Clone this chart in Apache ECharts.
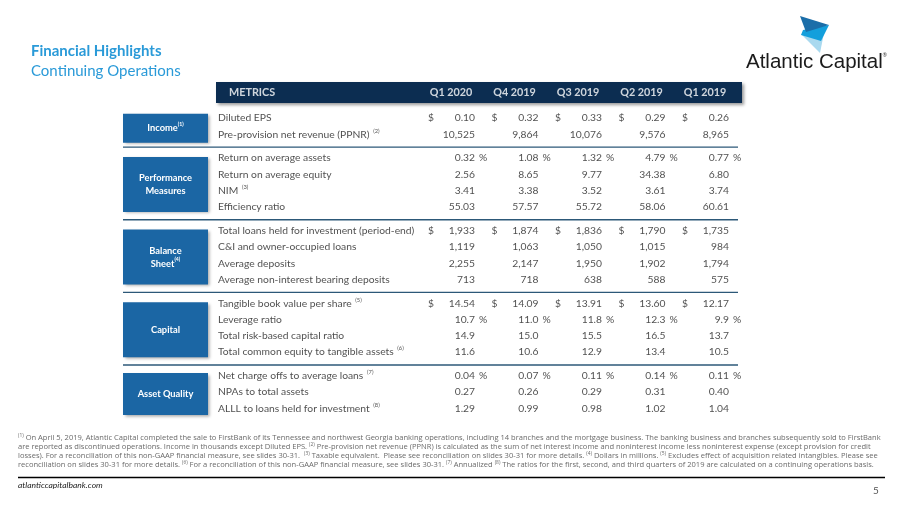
<!DOCTYPE html>
<html><head><meta charset="utf-8">
<script src="https://cdn.jsdelivr.net/npm/echarts@6/dist/echarts.min.js"></script>
<style>html,body{margin:0;padding:0;background:#fff}#c{width:900px;height:506px}</style>
</head><body><div id="c"></div>
<script>
// ---------- DATA ----------
const quarters = ['Q1 2020', 'Q4 2019', 'Q3 2019', 'Q2 2019', 'Q1 2019'];
const sectionNames = ['Income', 'Performance\nMeasures', 'Balance\nSheet', 'Capital', 'Asset Quality'];
const sectionNotes = ['(1)', '', '(4)', '', ''];
const rowLabels = [
  'Diluted EPS', 'Pre-provision net revenue (PPNR)',
  'Return on average assets', 'Return on average equity', 'NIM', 'Efficiency ratio',
  'Total loans held for investment (period-end)', 'C&I and owner-occupied loans', 'Average deposits', 'Average non-interest bearing deposits',
  'Tangible book value per share', 'Leverage ratio', 'Total risk-based capital ratio', 'Total common equity to tangible assets',
  'Net charge offs to average loans', 'NPAs to total assets', 'ALLL to loans held for investment'
];
const rowNotes = ['', '(2)', '', '', '(3)', '', '', '', '', '', '(5)', '', '', '(6)', '(7)', '', '(8)'];
const rowSection = [0, 0, 1, 1, 1, 1, 2, 2, 2, 2, 3, 3, 3, 3, 4, 4, 4];
const rowUnits = ['$', '', '%', '', '', '', '$', '', '', '', '$', '%', '', '', '%', '', ''];
const decimals = [2, 0, 2, 2, 2, 2, 0, 0, 0, 0, 2, 1, 1, 1, 2, 2, 2];
const q1_2020 = [0.10, 10525, 0.32, 2.56, 3.41, 55.03, 1933, 1119, 2255, 713, 14.54, 10.7, 14.9, 11.6, 0.04, 0.27, 1.29];
const q4_2019 = [0.32, 9864, 1.08, 8.65, 3.38, 57.57, 1874, 1063, 2147, 718, 14.09, 11.0, 15.0, 10.6, 0.07, 0.26, 0.99];
const q3_2019 = [0.33, 10076, 1.32, 9.77, 3.52, 55.72, 1836, 1050, 1950, 638, 13.91, 11.8, 15.5, 12.9, 0.11, 0.29, 0.98];
const q2_2019 = [0.29, 9576, 4.79, 34.38, 3.61, 58.06, 1790, 1015, 1902, 588, 13.60, 12.3, 16.5, 13.4, 0.14, 0.31, 1.02];
const q1_2019 = [0.26, 8965, 0.77, 6.80, 3.74, 60.61, 1735, 984, 1794, 575, 12.17, 9.9, 13.7, 10.5, 0.11, 0.40, 1.04];
const quarterValues = [q1_2020, q4_2019, q3_2019, q2_2019, q1_2019];

// ---------- LAYOUT ----------
const FONT = 'Lato, "Noto Sans", sans-serif';
const FOOT_FONT = '"Open Sans", Lato, sans-serif';
const BODY_SIZE = 10.3;
const ROW0 = 118, ROW_H = 16.3, GAP_H = 7.4;
const COL0 = 451, COL_W = 63.5;
const LABEL_X = 218, TABLE_L = 123, TABLE_R = 738, BOX_L = 123, BOX_R = 208;
const HEAD = {x: 216, y: 82, w: 526, h: 21};
const TEXT_C = '#1e1e1e';
function rowY(i) { return ROW0 + i * ROW_H + rowSection[i] * GAP_H; }
function colC(k) { return COL0 + k * COL_W; }
function fmt(v, d) { return v.toLocaleString('en-US', {minimumFractionDigits: d, maximumFractionDigits: d}); }
function rowsOf(s) { const r = []; rowSection.forEach((x, i) => { if (x === s) r.push(i); }); return r; }

const chart = echarts.init(document.getElementById('c'), null, {renderer: 'canvas'});

const supRich = {
  a: {fontFamily: FONT, fontSize: BODY_SIZE, color: TEXT_C, lineHeight: 13},
  s: {fontFamily: FONT, fontSize: 5.8, color: TEXT_C, verticalAlign: 'top', lineHeight: 13, padding: [0, 0, 0, 1]}
};

const series = [];

// section boxes
series.push({
  type: 'custom', silent: true, animation: false,
  data: sectionNames.map((n, s) => [s]),
  renderItem: function (params, api) {
    const s = api.value(0);
    const r = rowsOf(s);
    const cy = (rowY(r[0]) + rowY(r[r.length - 1])) / 2 + 2;
    const h = 16 + (r.length - 1) * 13;
    const p0 = api.coord([BOX_L, cy - h / 2]);
    const p1 = api.coord([BOX_R, cy + h / 2]);
    const c = api.coord([(BOX_L + BOX_R) / 2, cy]);
    const lines = sectionNames[s].split('\n');
    const txt = lines.map((l, j) => '{b|' + l + '}' + (j === lines.length - 1 && sectionNotes[s] ? '{s|' + sectionNotes[s] + '}' : '')).join('\n');
    return {
      type: 'group', children: [
        {type: 'rect', shape: {x: p0[0], y: p0[1], width: p1[0] - p0[0], height: p1[1] - p0[1]},
          style: {fill: '#1b66a4', shadowBlur: 3, shadowOffsetX: 1.5, shadowOffsetY: 1.5, shadowColor: 'rgba(0,0,0,0.35)'}},
        {type: 'text', x: c[0], y: c[1], style: {text: txt, align: 'center', verticalAlign: 'middle',
          rich: {b: {fontFamily: FONT, fontSize: 9.3, fontWeight: 'bold', fill: '#fff', color: '#fff', lineHeight: 13},
                 s: {fontFamily: FONT, fontSize: 5.2, fontWeight: 'bold', fill: '#fff', color: '#fff', verticalAlign: 'top', lineHeight: 13}}}}
      ]
    };
  }
});

// separators
series.push({
  type: 'custom', silent: true, animation: false,
  data: [0, 1, 2, 3].map(s => [s]),
  renderItem: function (params, api) {
    const s = api.value(0);
    const a = rowsOf(s), b = rowsOf(s + 1);
    const y = (rowY(a[a.length - 1]) + rowY(b[0])) / 2 + 1;
    const p0 = api.coord([TABLE_L, y]), p1 = api.coord([TABLE_R, y]);
    return {type: 'line', shape: {x1: p0[0], y1: p0[1], x2: p1[0], y2: p1[1]}, style: {stroke: '#2c5878', lineWidth: 1.4}};
  }
});

// header bar
series.push({
  type: 'custom', silent: true, animation: false,
  data: [[0]],
  renderItem: function (params, api) {
    const p0 = api.coord([HEAD.x, HEAD.y]), p1 = api.coord([HEAD.x + HEAD.w, HEAD.y + HEAD.h]);
    return {type: 'rect', shape: {x: p0[0], y: p0[1], width: p1[0] - p0[0], height: p1[1] - p0[1]},
      style: {fill: '#0c2d51', shadowBlur: 3, shadowOffsetX: 2, shadowOffsetY: 2, shadowColor: 'rgba(0,0,0,0.4)'}};
  }
});

// header labels
series.push({
  type: 'scatter', silent: true, animation: false, symbolSize: 0,
  data: quarters.map((q, k) => ({value: [colC(k), HEAD.y + HEAD.h / 2], name: q})),
  label: {show: true, position: 'inside', formatter: p => p.name, color: '#fff', fontFamily: FONT, fontSize: 10.8, fontWeight: 'bold'}
});
series.push({
  type: 'scatter', silent: true, animation: false, symbolSize: 0,
  data: [{value: [229, HEAD.y + HEAD.h / 2], name: 'METRICS'}],
  label: {show: true, position: 'right', distance: 0, formatter: p => p.name, color: '#fff', fontFamily: FONT, fontSize: 10.8, fontWeight: 'bold'}
});

// row labels
series.push({
  type: 'scatter', silent: true, animation: false, symbolSize: 0,
  data: rowLabels.map((l, i) => ({value: [LABEL_X, rowY(i)], name: l, note: rowNotes[i]})),
  label: {show: true, position: 'right', distance: 0,
    formatter: p => '{a|' + p.name + '}' + (p.data.note ? '{a| }{s|' + p.data.note + '}' : ''),
    rich: supRich}
});

// values
quarterValues.forEach((vals, k) => {
  series.push({
    type: 'scatter', silent: true, animation: false, symbolSize: 0, name: quarters[k],
    data: vals.map((v, i) => ({value: [colC(k) + 24, rowY(i)], txt: fmt(v, decimals[i])})),
    label: {show: true, position: 'left', distance: 0, formatter: p => p.data.txt,
      fontFamily: FONT, fontSize: BODY_SIZE, color: TEXT_C}
  });
  const units = [];
  rowUnits.forEach((u, i) => {
    if (u === '$') units.push({value: [colC(k) - 23, rowY(i)], txt: '$'});
    if (u === '%') units.push({value: [colC(k) + 28, rowY(i)], txt: '%'});
  });
  series.push({
    type: 'scatter', silent: true, animation: false, symbolSize: 0,
    data: units,
    label: {show: true, position: 'right', distance: 0, formatter: p => p.data.txt,
      fontFamily: FONT, fontSize: BODY_SIZE, color: TEXT_C}
  });
});

const footRich = {
  t: {fontFamily: FOOT_FONT, fontSize: 7.55, color: '#6a6a6a', fill: '#6a6a6a'},
  u: {fontFamily: FOOT_FONT, fontSize: 4.9, color: '#6a6a6a', fill: '#6a6a6a', verticalAlign: 'top', lineHeight: 8}
};
const footLines = [
  '{u|(1)}{t| On April 5, 2019, Atlantic Capital completed the sale to FirstBank of its Tennessee and northwest Georgia banking operations, including 14 branches and the mortgage business. The banking business and branches subsequently sold to FirstBank}',
  '{t|are reported as discontinued operations. Income in thousands except Diluted EPS. }{u|(2)}{t| Pre-provision net revenue (PPNR) is calculated as the sum of net interest income and noninterest income less noninterest expense (except provision for credit}',
  '{t|losses). For a reconciliation of this non-GAAP financial measure, see slides 30-31.  }{u|(3)}{t| Taxable equivalent.  Please see reconciliation on slides 30-31 for more details. }{u|(4)}{t| Dollars in millions. }{u|(5)}{t| Excludes effect of acquisition related intangibles. Please see}',
  '{t|reconciliation on slides 30-31 for more details. }{u|(6)}{t| For a reconciliation of this non-GAAP financial measure, see slides 30-31. }{u|(7)}{t| Annualized }{u|(8)}{t| The ratios for the first, second, and third quarters of 2019 are calculated on a continuing operations basis.}'
];

const graphic = [
  // logo
  {type: 'polygon', shape: {points: [[801, 34], [824, 33], [820, 53]]}, style: {fill: '#a9d9ef'}, silent: true},
  {type: 'polygon', shape: {points: [[803, 30], [829, 25], [821, 41], [801, 35]]}, style: {fill: '#139fdc'}, silent: true},
  {type: 'polygon', shape: {points: [[800, 16], [829, 25], [806, 32]]}, style: {fill: '#1b6ea9'}, silent: true},
  {type: 'text', left: 746, top: 52, silent: true,
    style: {text: '{l|Atlantic Capital}{r|®}', rich: {
      l: {fontFamily: '"Liberation Sans", Arial, sans-serif', fontSize: 20.5, fill: '#1b1b1b', color: '#1b1b1b'},
      r: {fontFamily: '"Liberation Sans", Arial, sans-serif', fontSize: 5.5, fill: '#1b1b1b', color: '#1b1b1b', verticalAlign: 'top'}}}},
  // footnotes
  ...footLines.map((t, j) => ({type: 'text', left: 18, top: 433.5 + j * 9, silent: true,
    style: {text: t, rich: footRich}})),
  {type: 'line', shape: {x1: 18, y1: 477.5, x2: 885, y2: 477.5}, style: {stroke: '#000', lineWidth: 1.5}, silent: true},
  {type: 'text', left: 18, top: 481, silent: true,
    style: {text: 'atlanticcapitalbank.com', fontFamily: FONT, fontSize: 8.5, fontStyle: 'italic', fill: '#1a1a1a'}},
  {type: 'text', left: 873, top: 486, silent: true,
    style: {text: '5', fontFamily: FONT, fontSize: 10, fill: '#555'}}
];

chart.setOption({
  backgroundColor: '#fff',
  animation: false,
  title: {text: 'Financial Highlights', subtext: 'Continuing Operations', left: 26, top: 39, itemGap: 5,
    textStyle: {fontFamily: FONT, fontSize: 15, fontWeight: 'bold', color: '#2a9ad8'},
    subtextStyle: {fontFamily: FONT, fontSize: 15, color: '#2a9ad8'}},
  grid: {left: 0, right: 0, top: 0, bottom: 0},
  xAxis: {type: 'value', min: 0, max: 900, show: false},
  yAxis: {type: 'value', min: 0, max: 506, inverse: true, show: false},
  graphic: graphic,
  series: series
});
</script></body></html>
